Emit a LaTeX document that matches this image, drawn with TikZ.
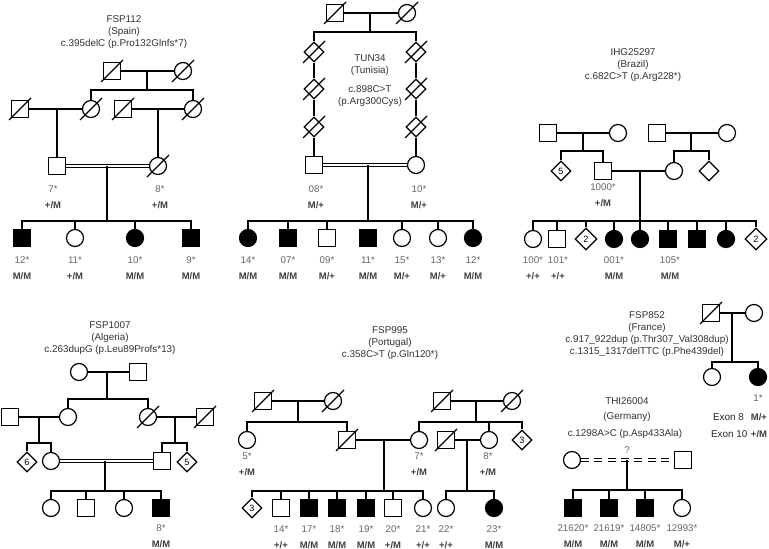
\documentclass[tikz,border=0pt]{standalone}
\usepackage{fontspec}
\setmainfont{Liberation Sans}
\usetikzlibrary{shapes.geometric}
\newcommand{\dd}[1]{\draw (#1.center) ++(-11,11) -- ++(22,-22);}
\newcommand{\lab}[5]{\node[idl] (#1a) at (#2,#3) {#4}; \node[gtl] (#1b) at (#2,#3+16) {#5};}
\tikzset{
  sym/.style={draw, inner sep=0pt, minimum size=12.75pt},
  msq/.style={sym, rectangle},
  fsq/.style={msq, fill=black},
  ci/.style={sym, circle},
  fci/.style={ci, fill=black},
  dia/.style={draw, diamond, inner sep=0pt, minimum size=15pt, font=\fontsize{6.8}{7}\selectfont},
  bdia/.style={dia, minimum size=16.5pt},
  consang/.style={double, double distance=1.7pt, line width=0.75pt},
  ttl/.style={font=\fontsize{7.4}{9}\selectfont, text=black!80, align=center},
  idl/.style={font=\fontsize{7.3}{8}\selectfont, text=black!60},
  gtl/.style={font=\bfseries\fontsize{7.1}{8}\selectfont, text=black!75},
  exl/.style={font=\fontsize{7.4}{8}\selectfont, text=black!85, anchor=west},
}
\begin{document}
\begin{tikzpicture}[x=0.75pt, y=-0.75pt, line width=0.9pt]
\useasboundingbox[fill=white] (0,0) rectangle (769,549);

% ================= FSP112 =================
\node[ttl] (At) at (124,32) {FSP112\\(Spain)\\c.395delC (p.Pro132Glnfs*7)};
\node[msq] (A1) at (112,71) {}; \dd{A1}
\node[ci] (A2) at (183,71) {}; \dd{A2}
\draw (A1) -- (A2);
\coordinate (A12m) at (147,71); \coordinate (A12s) at (147,90);
\draw (A12m) -- (A12s);
\node[msq] (A3) at (20,109) {}; \dd{A3}
\node[ci] (A4) at (91,109) {}; \dd{A4}
\node[msq] (A5) at (123,109) {}; \dd{A5}
\node[ci] (A6) at (193,109) {}; \dd{A6}
\draw (A4.north) |- (A12s) -| (A6.north);
\draw (A3) -- (A4); \draw (A5) -- (A6);
\coordinate (A34m) at (57,109); \coordinate (A56m) at (158,109);
\node[msq] (A7) at (57,166) {};
\node[ci] (A8) at (158,166) {}; \dd{A8}
\draw (A34m) -- (A7); \draw (A56m) -- (A8);
\draw[consang] (A7) -- (A8);
\coordinate (A78m) at (107,166); \coordinate (A78s) at (107,221);
\draw (A78m) -- (A78s);
\node[fsq] (A9) at (22,238) {};
\node[ci] (A10) at (75,238) {};
\node[fci] (A11) at (135,238) {};
\node[fsq] (A12) at (191,238) {};
\draw (A9.north) |- (A78s) -| (A12.north);
\draw (A10) -- (A10 |- A78s); \draw (A11) -- (A11 |- A78s);
\lab{A7}{53}{189}{7*}{+/M}
\lab{A8}{160}{189}{8*}{+/M}
\lab{A9}{22}{260}{12*}{M/M}
\lab{A10}{75}{260}{11*}{+/M}
\lab{A11}{135}{260}{10*}{M/M}
\lab{A12}{191}{260}{9*}{M/M}

% ================= TUN34 =================
\node[msq] (B1) at (335,13) {}; \dd{B1}
\node[ci] (B2) at (407,13) {}; \dd{B2}
\draw (B1) -- (B2);
\coordinate (B12m) at (370,13); \coordinate (B12s) at (370,32);
\draw (B12m) -- (B12s);
\node[dia] (B3) at (314,52) {}; \dd{B3}
\node[dia] (B4) at (314,89) {}; \dd{B4}
\node[dia] (B5) at (314,127) {}; \dd{B5}
\node[dia] (B6) at (416,52) {}; \dd{B6}
\node[dia] (B7) at (416,89) {}; \dd{B7}
\node[dia] (B8) at (416,127) {}; \dd{B8}
\node[msq] (B9) at (314,165) {};
\node[ci] (B10) at (416,165) {};
\draw (B3.north) |- (B12s) -| (B6.north);
\draw (B3) -- (B4) -- (B5) -- (B9);
\draw (B6) -- (B7) -- (B8) -- (B10);
\draw[consang] (B9) -- (B10);
\coordinate (B910m) at (368,165); \coordinate (B910s) at (368,221);
\draw (B910m) -- (B910s);
\node[ttl] (Bt1) at (370,65) {TUN34\\(Tunisia)};
\node[ttl] (Bt2) at (370,96.5) {c.898C>T\\(p.Arg300Cys)};
\node[fci] (B11) at (248,238) {};
\node[fsq] (B12) at (288,238) {};
\node[msq] (B13) at (327,238) {};
\node[fsq] (B14) at (368,238) {};
\node[ci] (B15) at (402,238) {};
\node[ci] (B16) at (438,238) {};
\node[fci] (B17) at (473,238) {};
\draw (B11.north) |- (B910s) -| (B17.north);
\foreach \n in {B12,B13,B15,B16} \draw (\n) -- (\n |- B910s);
\lab{B9}{316}{189}{08*}{M/+}
\lab{B10}{419}{189}{10*}{M/+}
\lab{B11}{248}{260}{14*}{M/M}
\lab{B12}{288}{260}{07*}{M/M}
\lab{B13}{327}{260}{09*}{M/+}
\lab{B14}{368}{260}{11*}{M/M}
\lab{B15}{402}{260}{15*}{M/+}
\lab{B16}{438}{260}{13*}{M/+}
\lab{B17}{473}{260}{12*}{M/M}

% ================= IHG25297 =================
\node[ttl] (Ct) at (633,65) {IHG25297\\(Brazil)\\c.682C>T (p.Arg228*)};
\node[msq] (C1) at (548,133) {};
\node[ci] (C2) at (618,133) {};
\node[msq] (C3) at (657,133) {};
\node[ci] (C4) at (727,133) {};
\draw (C1) -- (C2); \draw (C3) -- (C4);
\coordinate (C12m) at (583,133); \coordinate (C12s) at (583,151);
\coordinate (C34m) at (691,133); \coordinate (C34s) at (691,151);
\draw (C12m) -- (C12s); \draw (C34m) -- (C34s);
\node[dia] (C5) at (561,171) {5};
\node[msq] (C6) at (603,171) {};
\node[ci] (C7) at (674,171) {};
\node[dia] (C8) at (709,171) {};
\draw (C5.north) |- (C12s) -| (C6.north);
\draw (C7.north) |- (C34s) -| (C8.north);
\draw (C6) -- (C7);
\coordinate (C67m) at (640,171); \coordinate (C67s) at (640,221);
\draw (C67m) -- (C67s);
\node[ci] (C9) at (533,239) {};
\node[msq] (C10) at (557,239) {};
\node[bdia] (C11) at (586,239) {2};
\node[fci] (C12) at (614,239) {};
\node[fci] (C13) at (640,239) {};
\node[fsq] (C14) at (668,239) {};
\node[fsq] (C15) at (697,239) {};
\node[fci] (C16) at (726,239) {};
\node[bdia] (C17) at (756,239) {2};
\draw (C9.north) |- (C67s) -| (C17.north);
\foreach \n in {C10,C11,C12,C13,C14,C15,C16} \draw (\n) -- (\n |- C67s);
\lab{C6}{603}{187}{1000*}{+/M}
\lab{C9}{533}{260}{100*}{+/+}
\lab{C10}{558}{260}{101*}{+/+}
\lab{C12}{614}{260}{001*}{M/M}
\lab{C14}{670}{260}{105*}{M/M}

% ================= FSP1007 =================
\node[ttl] (Dt) at (110,338.5) {FSP1007\\(Algeria)\\c.263dupG (p.Leu89Profs*13)};
\node[ci] (D1) at (79,372) {};
\node[msq] (D2) at (138,372) {};
\draw (D1) -- (D2);
\coordinate (D12m) at (107,372); \coordinate (D12s) at (107,399);
\draw (D12m) -- (D12s);
\node[msq] (D3) at (10,417) {};
\node[ci] (D4) at (68,417) {};
\node[ci] (D5) at (148,417) {}; \dd{D5}
\node[msq] (D6) at (205,417) {}; \dd{D6}
\draw (D4.north) |- (D12s) -| (D5.north);
\draw (D3) -- (D4); \draw (D5) -- (D6);
\coordinate (D34m) at (39,417); \coordinate (D34s) at (39,443);
\coordinate (D56m) at (175,417); \coordinate (D56s) at (175,443);
\draw (D34m) -- (D34s); \draw (D56m) -- (D56s);
\node[dia] (D7) at (27,462) {6};
\node[ci] (D8) at (51,461) {};
\node[msq] (D9) at (162,461) {};
\node[dia] (D10) at (187,462) {5};
\draw (D7.north) |- (D34s) -| (D8.north);
\draw (D9.north) |- (D56s) -| (D10.north);
\draw[consang] (D8) -- (D9);
\coordinate (D89m) at (105,461); \coordinate (D89s) at (105,491);
\draw (D89m) -- (D89s);
\node[ci] (D11) at (51,508) {};
\node[msq] (D12) at (86,508) {};
\node[ci] (D13) at (124,508) {};
\node[fsq] (D14) at (161,508) {};
\draw (D11.north) |- (D89s) -| (D14.north);
\draw (D12) -- (D12 |- D89s); \draw (D13) -- (D13 |- D89s);
\lab{D14}{161}{528}{8*}{M/M}

% ================= FSP995 =================
\node[ttl] (Et) at (390,343) {FSP995\\(Portugal)\\c.358C>T (p.Gln120*)};
\node[msq] (E1) at (263,401) {}; \dd{E1}
\node[ci] (E2) at (333,401) {}; \dd{E2}
\node[msq] (E3) at (442,401) {}; \dd{E3}
\node[ci] (E4) at (512,401) {}; \dd{E4}
\draw (E1) -- (E2); \draw (E3) -- (E4);
\coordinate (E12m) at (298,401); \coordinate (E12s) at (298,422);
\coordinate (E34m) at (476,401); \coordinate (E34s) at (476,422);
\draw (E12m) -- (E12s); \draw (E34m) -- (E34s);
\node[ci] (E5) at (247,440) {};
\node[msq] (E6) at (347,440) {}; \dd{E6}
\node[ci] (E7) at (419,440) {};
\node[msq] (E8) at (446,440) {}; \dd{E8}
\node[ci] (E9) at (489,440) {};
\node[dia] (E10) at (522,440) {3};
\draw (E5.north) |- (E12s) -| (E6.north);
\draw (E7.north) |- (E34s) -| (E10.north);
\draw (E9) -- (E9 |- E34s);
\draw (E6) -- (E7); \draw (E8) -- (E9);
\coordinate (E67m) at (384,440); \coordinate (E67s) at (384,491);
\coordinate (E89m) at (467,440); \coordinate (E89s) at (467,491);
\draw (E67m) -- (E67s); \draw (E89m) -- (E89s);
\node[dia] (E11) at (252,508) {3};
\node[msq] (E12) at (281,508) {};
\node[fsq] (E13) at (309,508) {};
\node[fsq] (E14) at (337,508) {};
\node[fsq] (E15) at (366,508) {};
\node[msq] (E16) at (393,508) {};
\node[ci] (E17) at (423,508) {};
\node[ci] (E18) at (446,508) {};
\node[fci] (E19) at (494,508) {};
\draw (E11.north) |- (E67s) -| (E17.north);
\foreach \n in {E12,E13,E14,E15,E16} \draw (\n) -- (\n |- E67s);
\draw (E18.north) |- (E89s) -| (E19.north);
\lab{E5}{247}{456}{5*}{+/M}
\lab{E7}{419}{456}{7*}{+/M}
\lab{E9}{488}{456}{8*}{+/M}
\lab{E12}{281}{529}{14*}{+/+}
\lab{E13}{309}{529}{17*}{M/M}
\lab{E14}{337}{529}{18*}{M/M}
\lab{E15}{366}{529}{19*}{M/M}
\lab{E16}{393}{529}{20*}{+/M}
\lab{E17}{423}{529}{21*}{+/+}
\lab{E18}{446}{529}{22*}{+/+}
\lab{E19}{494}{529}{23*}{M/M}

% ================= FSP852 =================
\node[ttl] (Ft) at (647,334.5) {FSP852\\(France)\\c.917\_922dup (p.Thr307\_Val308dup)\\c.1315\_1317delTTC (p.Phe439del)};
\node[msq] (F1) at (711,313) {}; \dd{F1}
\node[ci] (F2) at (754,313) {};
\draw (F1) -- (F2);
\coordinate (F12m) at (732,313); \coordinate (F12s) at (732,362);
\draw (F12m) -- (F12s);
\node[ci] (F3) at (712,377) {};
\node[fci] (F4) at (758,377) {};
\draw (F3.north) |- (F12s) -| (F4.north);
\node[idl] (F4a) at (758,398) {1*};
\node[exl] (Fx8) at (708,417) {Exon 8};
\node[gtl] (F4b) at (759,417) {M/+};
\node[exl] (Fx10) at (706,434) {Exon 10};
\node[gtl] (F4c) at (759,434) {+/M};

% ================= THI26004 =================
\node[ttl] (Gt1) at (627,401) {THI26004};
\node[ttl] (Gt2) at (627,417) {(Germany)};
\node[ttl] (Gt3) at (625,434) {c.1298A>C (p.Asp433Ala)};
\node[ci] (G1) at (572,460) {};
\node[msq] (G2) at (683,460) {};
\draw[consang, dash pattern=on 6pt off 4pt] (G1) -- (G2);
\node[idl] (Gq) at (627,450) {?};
\coordinate (G12m) at (627,460); \coordinate (G12s) at (627,490);
\draw (G12m) -- (G12s);
\node[fsq] (G3) at (573,508) {};
\node[fsq] (G4) at (609,508) {};
\node[fsq] (G5) at (645,508) {};
\node[ci] (G6) at (682,508) {};
\draw (G3.north) |- (G12s) -| (G6.north);
\draw (G4) -- (G4 |- G12s); \draw (G5) -- (G5 |- G12s);
\lab{G3}{573}{528}{21620*}{M/M}
\lab{G4}{609}{528}{21619*}{M/M}
\lab{G5}{645}{528}{14805*}{M/M}
\lab{G6}{682}{528}{12993*}{M/+}
\end{tikzpicture}
\end{document}
